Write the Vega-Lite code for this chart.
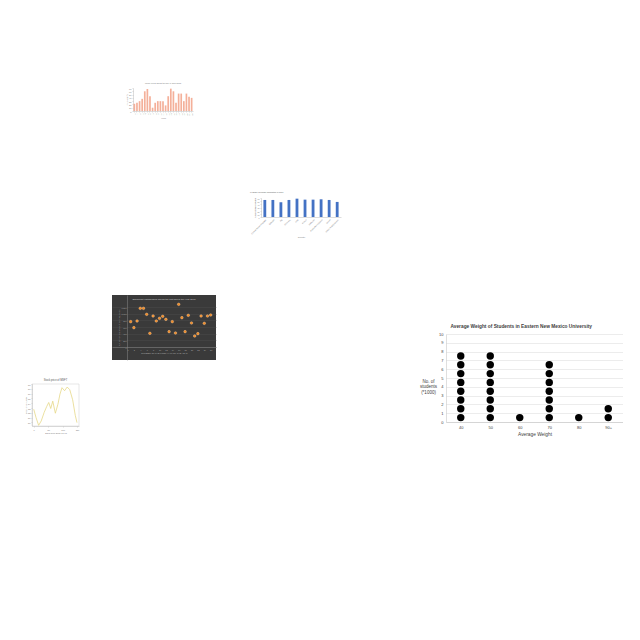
{
  "$schema": "https://vega.github.io/schema/vega-lite/v6.json",
  "background": "white",
  "padding": 0,
  "spacing": 0,
  "config": {
    "font": "Liberation Sans",
    "view": {"stroke": null},
    "concat": {"spacing": 0},
    "axis": {"labelColor": "#777", "titleColor": "#777", "domainColor": "#bbb", "tickColor": "#bbb", "titleFontWeight": "normal", "labelFontSize": 2.2, "titleFontSize": 2.2, "tickSize": 1, "labelPadding": 1, "titlePadding": 1.5, "domainWidth": 0.5, "tickWidth": 0.5},
    "title": {"fontWeight": "normal", "color": "#777"}
  },
  "vconcat": [
    {"width": 1, "height": 82, "data": {"values": [{}]}, "mark": {"type": "point", "opacity": 0}, "encoding": {}, "view": {"fill": "#ffffff"}},
    {
      "spacing": 0,
      "hconcat": [
        {"width": 123, "height": 1, "data": {"values": [{}]}, "mark": {"type": "point", "opacity": 0}, "encoding": {}, "view": {"fill": "#ffffff"}},
        {
          "width": 60, "height": 23,
          "title": {"text": "PM10 levels during the day in June 2015", "fontSize": 2, "offset": 3},
          "data": {"values": [
            {"hour": 0, "pm": 22}, {"hour": 1, "pm": 25}, {"hour": 2, "pm": 30}, {"hour": 3, "pm": 37},
            {"hour": 4, "pm": 60}, {"hour": 5, "pm": 67}, {"hour": 6, "pm": 45}, {"hour": 7, "pm": 10},
            {"hour": 8, "pm": 25}, {"hour": 9, "pm": 30}, {"hour": 10, "pm": 30}, {"hour": 11, "pm": 30},
            {"hour": 12, "pm": 17}, {"hour": 13, "pm": 45}, {"hour": 14, "pm": 68}, {"hour": 15, "pm": 60},
            {"hour": 16, "pm": 25}, {"hour": 17, "pm": 53}, {"hour": 18, "pm": 53}, {"hour": 19, "pm": 30},
            {"hour": 20, "pm": 53}, {"hour": 21, "pm": 43}, {"hour": 22, "pm": 40}
          ]},
          "mark": {"type": "bar", "color": "#f4b09a"},
          "encoding": {
            "x": {"field": "hour", "type": "ordinal", "scale": {"paddingInner": 0.35, "paddingOuter": 0.2}, "axis": {"title": "Hour", "labelAngle": -90, "labelFontSize": 1.8}},
            "y": {"field": "pm", "type": "quantitative", "scale": {"domain": [0, 70]}, "axis": {"title": "PM10 (µg/m³)", "tickCount": 7, "grid": false, "titleFontSize": 1.8}}
          }
        }
      ]
    },
    {"width": 1, "height": 71, "data": {"values": [{}]}, "mark": {"type": "point", "opacity": 0}, "encoding": {}, "view": {"fill": "#ffffff"}},
    {
      "spacing": 0,
      "hconcat": [
        {"width": 246, "height": 1, "data": {"values": [{}]}, "mark": {"type": "point", "opacity": 0}, "encoding": {}, "view": {"fill": "#ffffff"}},
        {
          "width": 80, "height": 19,
          "title": {"text": "% Share of female population in 1960", "fontSize": 2, "anchor": "start", "offset": 5, "color": "#555"},
          "data": {"values": [
            {"country": "Central African Republic", "share": 53.8},
            {"country": "Ethiopia", "share": 53.8},
            {"country": "Fiji", "share": 46.6},
            {"country": "Germany", "share": 53.8},
            {"country": "Haiti", "share": 57.9},
            {"country": "Kenya", "share": 54.8},
            {"country": "Malaysia", "share": 54.8},
            {"country": "Papua New Guinea", "share": 55.9},
            {"country": "Sudan", "share": 53.8},
            {"country": "United Arab Emirates", "share": 47.6}
          ]},
          "mark": {"type": "bar", "color": "#4472c4"},
          "encoding": {
            "x": {"field": "country", "type": "nominal", "sort": null, "scale": {"paddingInner": 0.65, "paddingOuter": 0.3}, "axis": {"title": "Country", "labelAngle": -45, "labelFontSize": 1.9, "ticks": false}},
            "y": {"field": "share", "type": "quantitative", "scale": {"domain": [0, 60]}, "axis": {"title": "% share of female population", "tickCount": 6, "grid": false, "titleFontSize": 1.5, "labelFontSize": 1.8}}
          }
        }
      ]
    },
    {"width": 1, "height": 54, "data": {"values": [{}]}, "mark": {"type": "point", "opacity": 0}, "encoding": {}, "view": {"fill": "#ffffff"}},
    {
      "spacing": 0,
      "hconcat": [
        {"width": 20, "height": 1, "data": {"values": [{}]}, "mark": {"type": "point", "opacity": 0}, "encoding": {}, "view": {"fill": "#ffffff"}},
        {
          "spacing": 0,
          "vconcat": [
            {"width": 1, "height": 83, "data": {"values": [{}]}, "mark": {"type": "point", "opacity": 0}, "encoding": {}, "view": {"fill": "#ffffff"}},
            {
              "width": 47, "height": 42,
              "view": {"stroke": "#cccccc", "strokeWidth": 0.5},
              "title": {"text": "Stock price of MSFT", "fontSize": 2.6, "offset": 1.5, "color": "#555"},
              "data": {"values": [
                {"day": 0, "price": 52.75}, {"day": 8, "price": 51.0}, {"day": 17, "price": 49.39},
                {"day": 26, "price": 50.3}, {"day": 36, "price": 52.05}, {"day": 45, "price": 53.31},
                {"day": 52, "price": 54.15}, {"day": 59, "price": 52.89}, {"day": 66, "price": 54.43},
                {"day": 75, "price": 51.91}, {"day": 84, "price": 53.8}, {"day": 91, "price": 55.9},
                {"day": 98, "price": 57.23}, {"day": 107, "price": 56.6}, {"day": 116, "price": 57.37},
                {"day": 125, "price": 56.81}, {"day": 135, "price": 54.71}, {"day": 144, "price": 51.49},
                {"day": 150, "price": 49.95}
              ]},
              "mark": {"type": "line", "color": "#e6d888", "strokeWidth": 0.8},
              "encoding": {
                "x": {"field": "day", "type": "quantitative", "scale": {"domain": [-6, 157], "nice": false, "zero": false}, "axis": {"title": "Days from 2016-01-01", "values": [0, 50, 100, 150], "grid": false}},
                "y": {"field": "price", "type": "quantitative", "scale": {"domain": [49.25, 58], "nice": false, "zero": false}, "axis": {"title": "Stock price (USD)", "grid": false, "tickCount": 8}}
              }
            }
          ]
        },
        {"width": 32, "height": 1, "data": {"values": [{}]}, "mark": {"type": "point", "opacity": 0}, "encoding": {}, "view": {"fill": "#ffffff"}},
        {
          "width": 104, "height": 65,
          "view": {"fill": "#3a3a3a", "stroke": null},
          "title": {"text": "Significant earthquakes during the first half of the year 2000", "fontSize": 2.4, "color": "#cccccc", "offset": -6, "frame": "group"},
          "data": {"values": [
            {"i": 1, "v": 760}, {"i": 2, "v": 580}, {"i": 3, "v": 780}, {"i": 4, "v": 1160},
            {"i": 5, "v": 1160}, {"i": 6, "v": 980}, {"i": 7, "v": 410}, {"i": 8, "v": 930},
            {"i": 9, "v": 780}, {"i": 10, "v": 860}, {"i": 11, "v": 920}, {"i": 12, "v": 830},
            {"i": 13, "v": 460}, {"i": 14, "v": 760}, {"i": 15, "v": 420}, {"i": 16, "v": 1280},
            {"i": 17, "v": 880}, {"i": 18, "v": 460}, {"i": 19, "v": 950}, {"i": 20, "v": 720},
            {"i": 21, "v": 330}, {"i": 22, "v": 400}, {"i": 23, "v": 930}, {"i": 24, "v": 710},
            {"i": 25, "v": 930}, {"i": 26, "v": 960}
          ]},
          "mark": {"type": "circle", "color": "#f08a24", "opacity": 1, "size": 7, "stroke": "#f6c9a0", "strokeWidth": 0.4},
          "encoding": {
            "x": {"field": "i", "type": "quantitative", "scale": {"domain": [-4.84, 27.66], "nice": false, "zero": false}, "axis": {"offset": -13, "title": "NUMBER OF THE FIRST HALF OF THE YEAR", "values": [0, 2, 4, 6, 8, 10, 12, 14, 16, 18, 20, 22, 24, 26], "grid": false, "labelColor": "#aaa", "titleColor": "#aaa", "domainColor": "#888", "ticks": false, "labelFontSize": 2}},
            "y": {"field": "v", "type": "quantitative", "scale": {"domain": [-390, 1560], "nice": false, "zero": false}, "axis": {"offset": -15, "title": "NUMBER OF SIGNIFICANT EARTHQUAKES", "values": [0, 200, 400, 600, 800, 1000, 1200], "grid": true, "gridColor": "#4e4e4e", "gridWidth": 0.4, "labelColor": "#aaa", "titleColor": "#aaa", "domainColor": "#888", "ticks": false, "labelFontSize": 2, "titleFontSize": 1.8}}
          }
        },
        {"width": 203, "height": 1, "data": {"values": [{}]}, "mark": {"type": "point", "opacity": 0}, "encoding": {}, "view": {"fill": "#ffffff"}},
        {
          "spacing": 0,
          "vconcat": [
            {"width": 1, "height": 29, "data": {"values": [{}]}, "mark": {"type": "point", "opacity": 0}, "encoding": {}, "view": {"fill": "#ffffff"}},
            {
              "width": 177, "height": 88,
              "title": {"text": "Average Weight of Students in Eastern New Mexico University", "fontSize": 4.8, "fontWeight": "bold", "color": "#404040", "anchor": "middle", "frame": "bounds", "offset": 3},
              "data": {"values": [
                {"weight": "40", "students": 0.5}, {"weight": "40", "students": 1.5}, {"weight": "40", "students": 2.5}, {"weight": "40", "students": 3.5},
                {"weight": "40", "students": 4.5}, {"weight": "40", "students": 5.5}, {"weight": "40", "students": 6.5}, {"weight": "40", "students": 7.5},
                {"weight": "50", "students": 0.5}, {"weight": "50", "students": 1.5}, {"weight": "50", "students": 2.5}, {"weight": "50", "students": 3.5},
                {"weight": "50", "students": 4.5}, {"weight": "50", "students": 5.5}, {"weight": "50", "students": 6.5}, {"weight": "50", "students": 7.5},
                {"weight": "60", "students": 0.5},
                {"weight": "70", "students": 0.5}, {"weight": "70", "students": 1.5}, {"weight": "70", "students": 2.5}, {"weight": "70", "students": 3.5},
                {"weight": "70", "students": 4.5}, {"weight": "70", "students": 5.5}, {"weight": "70", "students": 6.5},
                {"weight": "80", "students": 0.5},
                {"weight": "90+", "students": 0.5}, {"weight": "90+", "students": 1.5}
              ]},
              "mark": {"type": "circle", "color": "#000000", "opacity": 1, "size": 55},
              "encoding": {
                "x": {"field": "weight", "type": "ordinal", "sort": ["40", "50", "60", "70", "80", "90+"], "scale": {"paddingInner": 0, "paddingOuter": 0},
                  "axis": {"title": "Average Weight", "titleFontSize": 4.8, "labelFontSize": 4, "labelAngle": 0, "ticks": false, "domainColor": "#bfbfbf", "labelPadding": 3, "titlePadding": 2.5, "labelColor": "#404040", "titleColor": "#404040"}},
                "y": {"field": "students", "type": "quantitative", "scale": {"domain": [0, 10], "nice": false},
                  "axis": {"values": [0, 1, 2, 3, 4, 5, 6, 7, 8, 9, 10], "grid": true, "gridColor": "#d9d9d9", "gridWidth": 0.5, "ticks": false, "domain": true, "domainColor": "#bfbfbf", "labelFontSize": 4, "labelPadding": 3, "labelColor": "#404040",
                    "title": ["No. of", "students", "(*1000)"], "titleAngle": 0, "titleFontSize": 4.5, "titleColor": "#404040", "titleX": -18, "titleY": 47, "titleAlign": "center", "titleBaseline": "middle", "titleLineHeight": 5.8}}
              }
            }
          ]
        }
      ]
    }
  ]
}
